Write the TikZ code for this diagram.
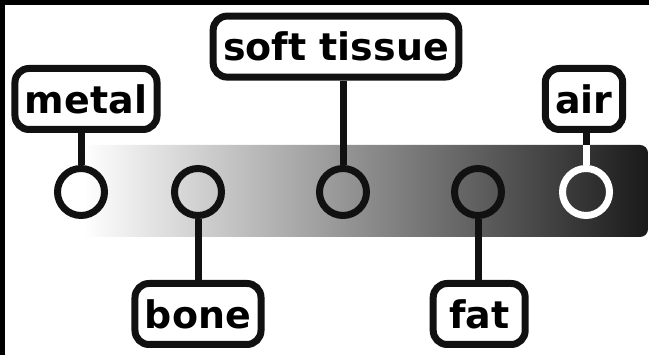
\documentclass[tikz,border=0pt]{standalone}
\usepackage{fontspec}
\setmainfont{DejaVu Sans}
\usepackage{xcolor}
\usepackage{tikz}
\definecolor{HUDark}{HTML}{1A1A1A}
\definecolor{HUInk}{HTML}{111111}

\begin{document}
\begin{tikzpicture}[x=1cm,y=1cm,
  tagbox/.style={draw=HUInk,line width=0.175cm,rounded corners=0.35cm,fill=white,
    inner xsep=0.25cm,inner ysep=0pt,minimum height=1.525cm,
    font=\fontsize{27}{30}\selectfont\bfseries},
  probe/.style={circle,draw=HUInk,line width=0.175cm,minimum size=1.175cm,inner sep=0pt},
  lead/.style={HUInk,line width=0.175cm}]
\path[use as bounding box] (0,0) rectangle (16.225,8.875);
\fill[black] (0,8.75) rectangle (16.225,8.875);
\fill[black] (0,0) rectangle (0.125,8.875);
% grey scale bar
\node[rectangle,inner sep=0pt,minimum width=14.125cm,minimum height=2.30cm,
  rounded corners=0.2cm,left color=white,right color=HUDark] (bar) at (9.1375,4.10) {};
% probes on the bar
\node[probe] (mcirc) at (2.025,4.075) {};
\node[probe] (bcirc) at (4.95,4.075) {};
\node[probe] (scirc) at (8.575,4.075) {};
\node[probe] (fcirc) at (11.95,4.075) {};
\node[probe,draw=white] (acirc) at (14.65,4.075) {};
% labels
\node[tagbox] (metal) at (2.15,6.40) {metal};
\node[tagbox] (soft) at (8.40,7.71) {soft tissue};
\node[tagbox] (air) at (14.60,6.40) {air};
\node[tagbox] (bone) at (4.95,1.025) {bone};
\node[tagbox,minimum width=2.3cm] (fat) at (11.98,1.025) {fat};
% leads
\draw[lead] (mcirc |- metal.south) -- (mcirc);
\draw[lead] (scirc |- soft.south) -- (scirc);
\draw[lead] (acirc |- air.south) -- (acirc);
\draw[lead,white] (acirc |- bar.north) -- (acirc);
\draw[lead] (bcirc) -- (bone);
\draw[lead] (fcirc) -- (fcirc |- fat.north);
\end{tikzpicture}
\end{document}
